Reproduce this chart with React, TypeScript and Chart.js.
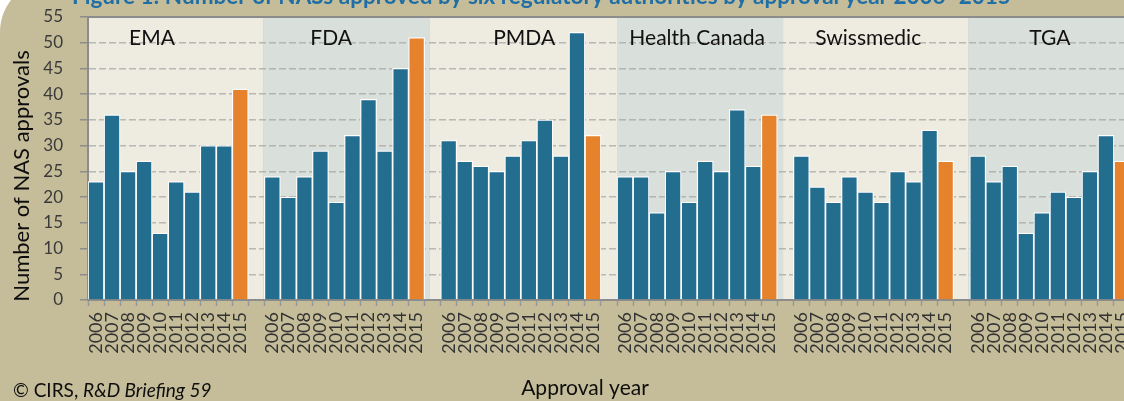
import React, { useEffect, useRef } from 'react';
import { Chart, registerables } from 'chart.js';

Chart.register(...registerables);

// ---------- data ----------
const agencies = ['EMA', 'FDA', 'PMDA', 'Health Canada', 'Swissmedic', 'TGA'];
const years = ['2006', '2007', '2008', '2009', '2010', '2011', '2012', '2013', '2014', '2015'];
const emaValues = [23, 36, 25, 27, 13, 23, 21, 30, 30, 41];
const fdaValues = [24, 20, 24, 29, 19, 32, 39, 29, 45, 51];
const pmdaValues = [31, 27, 26, 25, 28, 31, 35, 28, 52, 32];
const healthCanadaValues = [24, 24, 17, 25, 19, 27, 25, 37, 26, 36];
const swissmedicValues = [28, 22, 19, 24, 21, 19, 25, 23, 33, 27];
const tgaValues = [28, 23, 26, 13, 17, 21, 20, 25, 32, 27];
const yMin = 0;
const yMax = 55;
const yStep = 5;

const chartTitle = 'Figure 1: Number of NASs approved by six regulatory authorities by approval year 2006\u20132015';
const yAxisTitle = 'Number of NAS approvals';
const xAxisTitle = 'Approval year';
const sourcePlain = '\u00A9 CIRS, ';
const sourceItalic = 'R&D Briefing 59';

// ---------- styles ----------
const BLUE = '#236e8f';
const ORANGE = '#e7822c';
const TAN = '#c5bd99';
const PANEL_LIGHT = '#eeebe0';
const PANEL_DARK = '#d9dfda';
const AXIS_GRAY = '#8c8c8c';
const FONT = 'Lato, "Open Sans", sans-serif';

// panel edges and label anchors in category-index units (layout only)
const PANEL_EDGES = [10.42, 20.83, 32.5, 42.86, 54.4];
const LABEL_POS = [3.49, 14.67, 26.71, 37.5, 48.17, 59.5];

const seriesByAgency = [emaValues, fdaValues, pmdaValues, healthCanadaValues, swissmedicValues, tgaValues];

function buildData() {
  const labels: string[] = [];
  const values: (number | null)[] = [];
  const colors: string[] = [];
  seriesByAgency.forEach((series, gi) => {
    if (gi > 0) {
      labels.push('');
      values.push(null);
      colors.push('rgba(0,0,0,0)');
    }
    series.forEach((v, i) => {
      labels.push(years[i]);
      values.push(v);
      colors.push(i === years.length - 1 ? ORANGE : BLUE);
    });
  });
  return { labels, values, colors };
}

const decorPlugin = {
  id: 'decor',
  beforeDraw(chart: any) {
    const { ctx, chartArea, width, height } = chart;
    const xs = chart.scales.x;
    ctx.save();
    ctx.fillStyle = '#ffffff';
    ctx.fillRect(0, 0, width, height);
    ctx.fillStyle = TAN;
    ctx.beginPath();
    if (ctx.roundRect) {
      ctx.roundRect(0, -20, width + 40, height + 40, [52, 0, 0, 0]);
    } else {
      ctx.rect(0, -20, width + 40, height + 40);
    }
    ctx.fill();

    // title (cropped at top)
    ctx.font = `bold 22.5px ${FONT}`;
    ctx.fillStyle = '#1f6ea6';
    ctx.textAlign = 'left';
    ctx.textBaseline = 'alphabetic';
    ctx.fillText(chartTitle, 72, 4);

    // panels
    const edges = [chartArea.left, ...PANEL_EDGES.map((v) => xs.getPixelForValue(v)), chartArea.right];
    for (let i = 0; i < edges.length - 1; i++) {
      ctx.fillStyle = i % 2 === 0 ? PANEL_LIGHT : PANEL_DARK;
      ctx.fillRect(edges[i], chartArea.top, edges[i + 1] - edges[i], chartArea.bottom - chartArea.top);
    }
    ctx.restore();
  },
  afterDraw(chart: any) {
    const { ctx, chartArea } = chart;
    const xs = chart.scales.x;
    ctx.save();
    // top border line
    ctx.strokeStyle = AXIS_GRAY;
    ctx.lineWidth = 2;
    ctx.beginPath();
    ctx.moveTo(chartArea.left, chartArea.top);
    ctx.lineTo(chartArea.right, chartArea.top);
    ctx.stroke();

    // panel labels
    ctx.font = `21px ${FONT}`;
    ctx.fillStyle = '#111111';
    ctx.textAlign = 'center';
    ctx.textBaseline = 'alphabetic';
    agencies.forEach((name, i) => {
      ctx.fillText(name, xs.getPixelForValue(LABEL_POS[i]), 45);
    });

    // y axis title
    ctx.save();
    ctx.translate(22, 176);
    ctx.rotate(-Math.PI / 2);
    ctx.font = `22px ${FONT}`;
    ctx.textAlign = 'center';
    ctx.textBaseline = 'middle';
    ctx.fillStyle = '#0d0d0d';
    ctx.fillText(yAxisTitle, 0, 0);
    ctx.restore();

    // x axis title
    ctx.font = `21px ${FONT}`;
    ctx.textAlign = 'center';
    ctx.textBaseline = 'alphabetic';
    ctx.fillStyle = '#0d0d0d';
    ctx.fillText(xAxisTitle, 585, 395);

    // source
    ctx.textAlign = 'left';
    ctx.font = `19px ${FONT}`;
    ctx.fillText(sourcePlain, 13, 397);
    const w = ctx.measureText(sourcePlain).width;
    ctx.font = `italic 19px ${FONT}`;
    ctx.fillText(sourceItalic, 13 + w, 397);
    ctx.restore();
  },
};

export default function App() {
  const canvasRef = useRef<HTMLCanvasElement | null>(null);

  useEffect(() => {
    if (!canvasRef.current) return;
    const { labels, values, colors } = buildData();
    const chart = new Chart(canvasRef.current, {
      type: 'bar',
      data: {
        labels,
        datasets: [
          {
            data: values,
            backgroundColor: colors,
            borderColor: '#ffffff',
            borderWidth: 1.2,
            barPercentage: 1,
            categoryPercentage: 1,
          },
        ],
      },
      options: {
        animation: false,
        responsive: false,
        devicePixelRatio: 1,
        layout: { padding: { left: 0, right: 0, top: 17, bottom: 0 } },
        plugins: {
          legend: { display: false },
          tooltip: { enabled: false },
          title: { display: false },
        },
        scales: {
          x: {
            type: 'category',
            offset: true,
            grid: {
              display: true,
              drawOnChartArea: false,
              drawTicks: true,
              tickLength: 6,
              tickColor: '#999999',
              tickWidth: 1.5,
              offset: true,
            },
            border: { display: true, color: AXIS_GRAY, width: 2 },
            ticks: {
              autoSkip: false,
              maxRotation: 90,
              minRotation: 90,
              padding: 6,
              color: '#333333',
              font: { family: FONT, size: 18 },
            },
            afterFit: (s: any) => {
              s.height = 101;
              s.paddingLeft = 0;
              s.paddingRight = 0;
            },
          } as any,
          y: {
            min: yMin,
            max: yMax,
            ticks: {
              stepSize: yStep,
              padding: 17,
              color: '#3a3a3a',
              font: { family: FONT, size: 17 },
            },
            grid: {
              color: (c: any) =>
                c.tick && (c.tick.value === yMin || c.tick.value === yMax)
                  ? 'rgba(0,0,0,0)'
                  : 'rgba(165,167,165,0.75)',
              lineWidth: 1.5,
              tickLength: 8,
              tickColor: AXIS_GRAY,
              tickWidth: 1.5,
              tickBorderDash: [],
            },
            border: { display: true, color: AXIS_GRAY, width: 2, dash: [7, 3] },
            afterFit: (s: any) => {
              s.width = 88;
              s.paddingTop = 0;
              s.paddingBottom = 0;
            },
          } as any,
        },
      },
      plugins: [decorPlugin],
    });
    const fonts: any = (document as any).fonts;
    if (fonts && fonts.load) {
      Promise.all([
        fonts.load(`17px Lato`),
        fonts.load(`bold 20px Lato`),
        fonts.load(`italic 18px Lato`),
      ]).then(() => chart.update()).catch(() => {});
    }
    return () => chart.destroy();
  }, []);

  return (
    <div
      style={{
        position: 'fixed',
        left: 0,
        top: 0,
        width: 1124,
        height: 401,
        overflow: 'hidden',
        background: '#ffffff',
      }}
    >
      <canvas
        ref={canvasRef}
        width={1130}
        height={401}
        style={{ display: 'block', width: 1130, height: 401 }}
      />
    </div>
  );
}
